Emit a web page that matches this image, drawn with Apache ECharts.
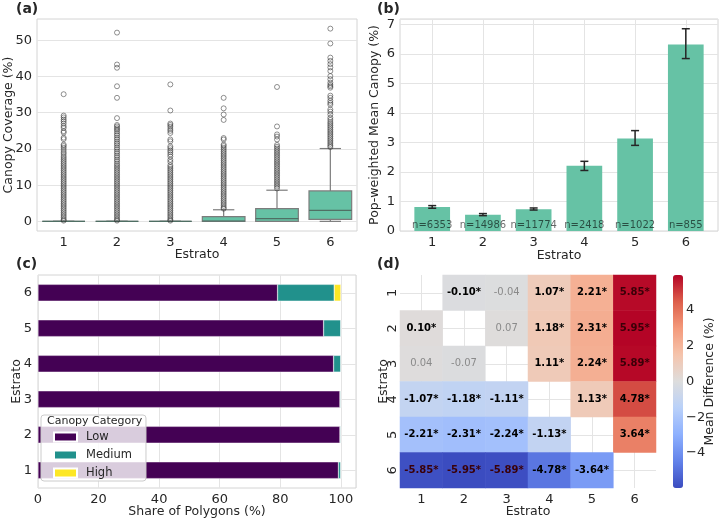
<!DOCTYPE html>
<html>
<head>
<meta charset="utf-8">
<script src="https://cdn.jsdelivr.net/npm/echarts@6.0.0/dist/echarts.min.js"></script>
<style>
  html, body { margin: 0; padding: 0; background: #fff; }
  #main { width: 722px; height: 520px; }
</style>
</head>
<body>
<div id="main"></div>
<script>
// ---- data ----
const estratos = ["1", "2", "3", "4", "5", "6"];

// (a) box stats: [whiskerLow, Q1, median, Q3, whiskerHigh]
const boxStats = [
  [0, 0, 0, 0, 0],
  [0, 0, 0, 0, 0],
  [0, 0, 0, 0, 0],
  [0, 0, 0.1, 1.3, 3.2],
  [0, 0, 0.75, 3.5, 8.6],
  [0, 0.55, 3.05, 8.4, 20.1]
];
const outliers1 = [35.1, 29.2, 28.7, 28.1, 27.6, 27.0, 26.3, 25.8, 24.9, 24.5, 23.1, 22.7, 21.2, 20.8, 20.3, 19.7, 19.1, 18.6, 18.0, 17.5, 17.0,
  16.5, 16.0, 15.5, 15.0, 14.5, 14.0, 13.5, 13.0, 12.5, 12.0, 11.5, 11.0, 10.5, 10.0, 9.5, 9.0, 8.5, 8.0, 7.5, 7.0, 6.5, 6.0,
  5.5, 5.0, 4.5, 4.0, 3.5, 3.0, 2.5, 2.0, 1.5, 1.0, 0.5, 0.2];
const outliers2 = [52.1, 43.3, 42.4, 37.3, 34.1, 28.5, 26.6, 26.2, 25.7, 25.3, 24.8, 24.2, 23.7, 23.1, 22.6, 22.0, 21.5, 21.0, 20.4, 19.9,
  19.3, 18.8, 18.2, 17.7, 17.1, 16.6, 16.0, 15.5, 15.0, 14.5, 14.0, 13.5, 13.0, 12.5, 12.0, 11.5, 11.0, 10.5, 10.0, 9.5, 9.0,
  8.5, 8.0, 7.5, 7.0, 6.5, 6.0, 5.5, 5.0, 4.5, 4.0, 3.5, 3.0, 2.5, 2.0, 1.5, 1.0, 0.5, 0.2];
const outliers3 = [37.8, 30.6, 27.0, 26.6, 26.1, 25.5, 25.0, 24.4, 22.6, 22.1, 20.7, 20.2, 19.6, 19.1, 18.5, 17.9, 17.0, 16.4,
  15.5, 15.0, 14.5, 14.0, 13.5, 13.0, 12.5, 12.0, 11.5, 11.0, 10.5, 10.0, 9.5, 9.0, 8.5, 8.0, 7.5, 7.0, 6.5, 6.0,
  5.5, 5.0, 4.5, 4.0, 3.5, 3.0, 2.5, 2.0, 1.5, 1.0, 0.5, 0.2];
const outliers4 = [34.1, 31.2, 29.5, 28.0, 23.0, 22.6, 21.2, 20.8, 20.3, 19.8, 19.3, 18.8, 18.3, 17.8, 17.3, 16.8, 16.3, 15.8,
  15.3, 14.8, 14.3, 13.8, 13.3, 12.8, 12.3, 11.8, 11.3, 10.8, 10.3, 9.8, 9.3, 8.8, 8.3, 7.8, 7.3, 6.8, 6.3, 5.8,
  5.3, 4.8, 4.3, 3.8, 3.5];
const outliers5 = [37.1, 26.2, 24.0, 23.4, 22.6, 21.1, 20.6, 20.1, 19.6, 19.1, 18.6, 18.1, 17.6, 17.1, 16.6, 16.1, 15.6, 15.1,
  14.6, 14.1, 13.6, 13.1, 12.6, 12.1, 11.6, 11.1, 10.6, 10.1, 9.6, 9.1];
const outliers6 = [53.2, 49.1, 45.2, 44.3, 43.4, 42.5, 41.5, 40.1, 39.2, 38.3, 37.7, 37.3, 36.9, 34.7, 34.1, 33.3, 32.7, 32.2,
  30.9, 30.3, 29.5, 28.6, 28.0, 27.4, 26.9, 26.4, 25.9, 25.4, 24.9, 24.4, 23.9, 23.4, 22.9, 22.4, 21.9, 21.4, 20.9, 20.5];
const outlierLists = [outliers1, outliers2, outliers3, outliers4, outliers5, outliers6];

// (b) population-weighted mean canopy with CI
const estratoPos = [1, 2, 3, 4, 5, 6];
const meanCanopy = [0.81, 0.55, 0.74, 2.21, 3.13, 6.32];
const ciLow = [0.77, 0.52, 0.71, 2.05, 2.90, 5.84];
const ciHigh = [0.86, 0.59, 0.78, 2.36, 3.40, 6.85];
const nPolygons = [6353, 14986, 11774, 2418, 1022, 855];

// (c) share of polygons by canopy category
const shareLow = [99.2, 99.7, 99.7, 97.6, 94.3, 79.1];
const shareMedium = [0.8, 0.3, 0.3, 2.4, 5.7, 18.7];
const shareHigh = [0, 0, 0, 0, 0, 2.2];

// (d) pairwise mean differences (row = Estrato on y, col = Estrato on x)
const diffMatrix = [
  [null, -0.10, -0.04, 1.07, 2.21, 5.85],
  [0.10, null, 0.07, 1.18, 2.31, 5.95],
  [0.04, -0.07, null, 1.11, 2.24, 5.89],
  [-1.07, -1.18, -1.11, null, 1.13, 4.78],
  [-2.21, -2.31, -2.24, -1.13, null, 3.64],
  [-5.85, -5.95, -5.89, -4.78, -3.64, null]
];
const diffSig = [
  [0, 1, 0, 1, 1, 1],
  [1, 0, 0, 1, 1, 1],
  [0, 0, 0, 1, 1, 1],
  [1, 1, 1, 0, 1, 1],
  [1, 1, 1, 1, 0, 1],
  [1, 1, 1, 1, 1, 0]
];
const coolwarm = ["#3b4cc0", "#6282ea", "#8db0fe", "#b9d0f9", "#dddddd", "#f5c4ac", "#f49a7b", "#dd5f4b", "#b40426"];

// ---- styling ----
const FONT = "DejaVu Sans";
const TXT = "#262626";
const GRIDLINE = "#e4e4e4";
const SPINE = "#d4d4d4";
const GREEN = "#66c2a5";
const BOXLINE = "#7c7c7c";

const boxData = boxStats.map((s, i) => [i].concat(s));
const outlierData = [];
outlierLists.forEach((arr, i) => arr.forEach(v => outlierData.push([i, v])));

const heatData = [];
diffMatrix.forEach((row, i) => row.forEach((v, j) => {
  if (v === null) return;
  const sig = diffSig[i][j] === 1;
  heatData.push({
    value: [j, i, v],
    label: {
      formatter: v.toFixed(2) + (sig ? "*" : ""),
      color: sig ? (Math.abs(v) > 5 ? "#3a0008" : "#000") : "#8a8a8a",
      fontWeight: sig ? "bold" : "normal"
    }
  });
}));

function renderBox(params, api) {
  const ci = api.value(0);
  const p = [1, 2, 3, 4, 5].map(k => api.coord([ci, api.value(k)]));
  const band = api.size([1, 0])[0];
  const bw = band * 0.8, cw = bw * 0.5;
  const cx = p[0][0];
  const ls = { stroke: BOXLINE, lineWidth: 1.2 };
  return {
    type: "group",
    children: [
      { type: "line", shape: { x1: cx, y1: p[3][1], x2: cx, y2: p[4][1] }, style: ls },
      { type: "line", shape: { x1: cx, y1: p[0][1], x2: cx, y2: p[1][1] }, style: ls },
      { type: "line", shape: { x1: cx - cw / 2, y1: p[4][1], x2: cx + cw / 2, y2: p[4][1] }, style: ls },
      { type: "line", shape: { x1: cx - cw / 2, y1: p[0][1], x2: cx + cw / 2, y2: p[0][1] }, style: ls },
      { type: "rect", shape: { x: cx - bw / 2, y: p[3][1], width: bw, height: p[1][1] - p[3][1] },
        style: { fill: GREEN, stroke: BOXLINE, lineWidth: 1.2 } },
      { type: "line", shape: { x1: cx - bw / 2, y1: p[2][1], x2: cx + bw / 2, y2: p[2][1] },
        style: { stroke: "#4f6f64", lineWidth: 1.2 } }
    ]
  };
}

function renderErr(params, api) {
  const x = api.value(0);
  const lo = api.coord([x, api.value(1)]);
  const hi = api.coord([x, api.value(2)]);
  const ls = { stroke: TXT, lineWidth: 1.5 };
  return {
    type: "group",
    children: [
      { type: "line", shape: { x1: lo[0], y1: lo[1], x2: hi[0], y2: hi[1] }, style: ls },
      { type: "line", shape: { x1: hi[0] - 4, y1: hi[1], x2: hi[0] + 4, y2: hi[1] }, style: ls },
      { type: "line", shape: { x1: lo[0] - 4, y1: lo[1], x2: lo[0] + 4, y2: lo[1] }, style: ls }
    ]
  };
}

const tickLbl = { color: TXT, fontSize: 13, fontFamily: FONT };
const nameStyle = { color: TXT, fontSize: 12.5, fontFamily: FONT };
const gridSplit = { show: true, lineStyle: { color: GRIDLINE, width: 1 } };
const gridBox = { show: true, borderColor: SPINE, borderWidth: 1, backgroundColor: "transparent" };

const chart = echarts.init(document.getElementById("main"), null, { renderer: "canvas" });
chart.setOption({
  animation: false,
  backgroundColor: "#fff",
  textStyle: { fontFamily: FONT },
  title: [
    { text: "(a)", left: 16, top: 2, padding: 0, textStyle: { fontSize: 14, fontWeight: "bold", color: TXT, fontFamily: FONT } },
    { text: "(b)", left: 377, top: 2, padding: 0, textStyle: { fontSize: 14, fontWeight: "bold", color: TXT, fontFamily: FONT } },
    { text: "(c)", left: 16, top: 257, padding: 0, textStyle: { fontSize: 14, fontWeight: "bold", color: TXT, fontFamily: FONT } },
    { text: "(d)", left: 377, top: 257, padding: 0, textStyle: { fontSize: 14, fontWeight: "bold", color: TXT, fontFamily: FONT } },
    { text: "Canopy Category", left: 47, top: 416, padding: 0, textStyle: { fontSize: 11, fontWeight: "normal", color: TXT, fontFamily: FONT } }
  ],
  grid: [
    Object.assign({ left: 37, top: 19, width: 320, height: 212 }, gridBox),
    Object.assign({ left: 400, top: 19, width: 318, height: 212 }, gridBox),
    Object.assign({ left: 38, top: 275, width: 318, height: 213 }, gridBox),
    { left: 400, top: 275, width: 256, height: 213 },
    { left: 673, top: 275, width: 10, height: 213 }
  ],
  xAxis: [
    { gridIndex: 0, type: "category", data: estratos, axisLine: { show: false }, axisTick: { show: false },
      axisLabel: Object.assign({ margin: 5 }, tickLbl), splitLine: { show: false },
      name: "Estrato", nameLocation: "middle", nameGap: 17, nameMoveOverlap: false, nameTextStyle: nameStyle },
    { gridIndex: 1, type: "value", min: 0.365, max: 6.635, axisLine: { show: false },
      axisTick: { show: false, customValues: estratoPos },
      axisLabel: Object.assign({ margin: 5, customValues: estratoPos }, tickLbl), splitLine: gridSplit,
      name: "Estrato", nameLocation: "middle", nameGap: 18, nameMoveOverlap: false, nameTextStyle: nameStyle },
    { gridIndex: 2, type: "value", min: 0, max: 105, interval: 20, axisLine: { show: false }, axisTick: { show: false },
      axisLabel: Object.assign({ margin: 5, formatter: v => (v % 20 === 0 ? String(v) : "") }, tickLbl), splitLine: gridSplit,
      name: "Share of Polygons (%)", nameLocation: "middle", nameGap: 17, nameMoveOverlap: false, nameTextStyle: nameStyle },
    { gridIndex: 3, type: "category", data: estratos, axisLine: { show: false }, axisTick: { show: false },
      axisLabel: Object.assign({ margin: 5 }, tickLbl), splitLine: { show: false },
      name: "Estrato", nameLocation: "middle", nameGap: 17, nameMoveOverlap: false, nameTextStyle: nameStyle },
    { gridIndex: 3, type: "value", min: 0.5, max: 6.5, axisLine: { show: false },
      axisTick: { show: false, customValues: estratoPos }, axisLabel: { show: false }, splitLine: gridSplit },
    { gridIndex: 4, type: "value", show: false, min: 0, max: 1 }
  ],
  yAxis: [
    { gridIndex: 0, type: "value", min: -2.66, max: 55.86, axisLine: { show: false },
      axisTick: { show: false, customValues: [0, 10, 20, 30, 40, 50] },
      axisLabel: Object.assign({ margin: 5, customValues: [0, 10, 20, 30, 40, 50] }, tickLbl), splitLine: gridSplit,
      name: "Canopy Coverage (%)", nameLocation: "middle", nameGap: 22, nameMoveOverlap: false, nameTextStyle: nameStyle },
    { gridIndex: 1, type: "value", min: 0, max: 7.18, interval: 1, axisLine: { show: false }, axisTick: { show: false },
      axisLabel: Object.assign({ margin: 5, formatter: v => (Number.isInteger(v) ? String(v) : "") }, tickLbl), splitLine: gridSplit,
      name: "Pop-weighted Mean Canopy (%)", nameLocation: "middle", nameGap: 19, nameMoveOverlap: false, nameTextStyle: nameStyle },
    { gridIndex: 2, type: "category", data: estratos, axisLine: { show: false }, axisTick: { show: false },
      axisLabel: Object.assign({ margin: 6 }, tickLbl), splitLine: { show: false },
      name: "Estrato", nameLocation: "middle", nameGap: 15, nameMoveOverlap: false, nameTextStyle: nameStyle },
    { gridIndex: 2, type: "value", min: 0.5, max: 6.5, position: "left", axisLine: { show: false },
      axisTick: { show: false, customValues: estratoPos }, axisLabel: { show: false }, splitLine: gridSplit },
    { gridIndex: 3, type: "category", data: estratos, inverse: true, axisLine: { show: false }, axisTick: { show: false },
      axisLabel: Object.assign({ margin: 1, rotate: 90 }, tickLbl), splitLine: { show: false },
      name: "Estrato", nameLocation: "middle", nameGap: 10, nameMoveOverlap: false, nameTextStyle: nameStyle },
    { gridIndex: 3, type: "value", min: 0.5, max: 6.5, inverse: true, axisLine: { show: false },
      axisTick: { show: false, customValues: estratoPos }, axisLabel: { show: false }, splitLine: gridSplit },
    { gridIndex: 4, type: "value", position: "right", min: -5.95, max: 5.95, axisLine: { show: false },
      axisTick: { show: true, length: 4, lineStyle: { color: TXT }, customValues: [-4, -2, 0, 2, 4] },
      axisLabel: Object.assign({ margin: 3, customValues: [-4, -2, 0, 2, 4],
        formatter: v => (v < 0 ? "\u2212" + Math.abs(v) : String(v)) }, tickLbl),
      splitLine: { show: false },
      name: "Mean Difference (%)", nameLocation: "middle", nameRotate: 90, nameGap: 20, nameMoveOverlap: false, nameTextStyle: nameStyle }
  ],
  legend: {
    data: ["Low", "Medium", "High"],
    orient: "vertical",
    left: 41, top: 415,
    padding: [16, 14, 2, 12],
    itemWidth: 23, itemHeight: 9, itemGap: 6,
    backgroundColor: "rgba(255,255,255,0.8)",
    borderColor: "#cccccc", borderWidth: 1, borderRadius: 3,
    icon: "rect",
    textStyle: { color: TXT, fontSize: 11.5, fontFamily: FONT, padding: [0, 0, 0, 4] }
  },
  visualMap: {
    type: "continuous",
    seriesIndex: 7,
    dimension: 2,
    min: -5.95, max: 5.95,
    calculable: false,
    left: 673, top: 275,
    itemWidth: 10, itemHeight: 213,
    padding: 0,
    inRange: { color: coolwarm }
  },
  series: [
    { type: "custom", xAxisIndex: 0, yAxisIndex: 0, data: boxData, renderItem: renderBox,
      encode: { x: 0, y: [1, 2, 3, 4, 5] }, z: 3, silent: true },
    { type: "scatter", xAxisIndex: 0, yAxisIndex: 0, data: outlierData, symbol: "circle", symbolSize: 5,
      itemStyle: { color: "rgba(0,0,0,0)", borderColor: "rgba(45,45,45,0.65)", borderWidth: 1 }, z: 4, silent: true },
    { type: "bar", xAxisIndex: 1, yAxisIndex: 1, data: estratoPos.map((x, i) => [x, meanCanopy[i]]), barWidth: 35.7,
      itemStyle: { color: GREEN },
      label: { show: true, position: "insideBottom", distance: 1, fontSize: 10, fontFamily: FONT,
        color: "rgba(0,0,0,0.6)", formatter: p => "n=" + nPolygons[p.dataIndex] }, silent: true },
    { type: "custom", xAxisIndex: 1, yAxisIndex: 1, data: estratoPos.map((x, i) => [x, ciLow[i], ciHigh[i]]),
      renderItem: renderErr, encode: { x: 0, y: [1, 2] }, z: 5, silent: true },
    { type: "bar", name: "Low", xAxisIndex: 2, yAxisIndex: 2, stack: "share", data: shareLow, barWidth: 16.7,
      itemStyle: { color: "#440154", borderColor: "#fff", borderWidth: 0.4 }, silent: true },
    { type: "bar", name: "Medium", xAxisIndex: 2, yAxisIndex: 2, stack: "share", data: shareMedium, barWidth: 16.7,
      itemStyle: { color: "#21918c", borderColor: "#fff", borderWidth: 0.4 }, silent: true },
    { type: "bar", name: "High", xAxisIndex: 2, yAxisIndex: 2, stack: "share", data: shareHigh, barWidth: 16.7,
      itemStyle: { color: "#fde725", borderColor: "#fff", borderWidth: 0.4 }, silent: true },
    { type: "heatmap", xAxisIndex: 3, yAxisIndex: 4, data: heatData,
      label: { show: true, fontSize: 10, fontFamily: FONT }, silent: true }
  ]
});
</script>
</body>
</html>
